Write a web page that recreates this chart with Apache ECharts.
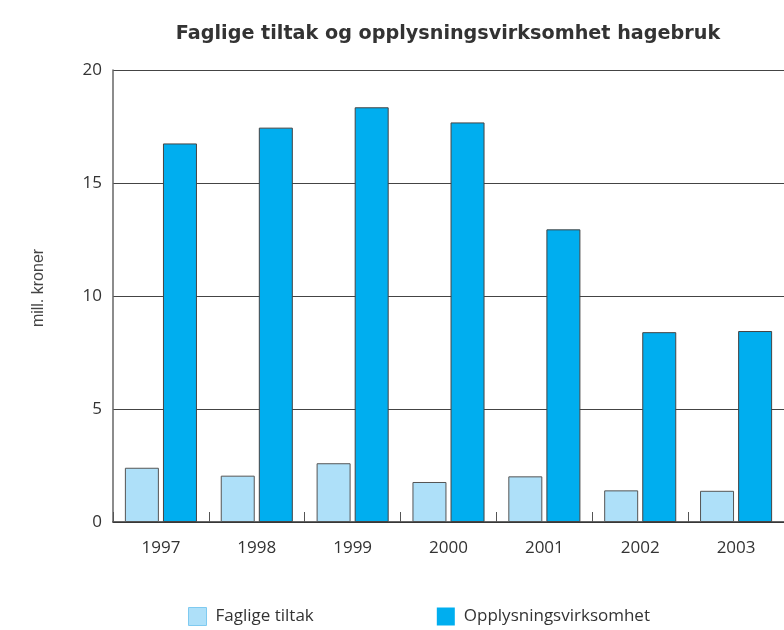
<!DOCTYPE html>
<html>
<head>
<meta charset="utf-8">
<script src="https://cdn.jsdelivr.net/npm/echarts@6/dist/echarts.min.js"></script>
<style>
  html, body { margin: 0; padding: 0; background: #fff; }
  #chart { width: 784px; height: 630px; }
</style>
</head>
<body>
<div id="chart"></div>
<script>
const years = ["1997", "1998", "1999", "2000", "2001", "2002", "2003"];
const faglige = [2.4, 2.05, 2.6, 1.77, 2.02, 1.4, 1.38];
const opplysning = [16.75, 17.45, 18.35, 17.68, 12.95, 8.4, 8.45];
const yTicks = [0, 5, 10, 15, 20];

const myChart = echarts.init(document.getElementById("chart"));
myChart.setOption({
  animation: false,
  title: {
    text: "Faglige tiltak og opplysningsvirksomhet hagebruk",
    left: 443,
    textAlign: "center",
    top: 20,
    textStyle: {
      fontFamily: "DejaVu Sans",
      fontWeight: "bold",
      fontSize: 19.2,
      color: "#333"
    }
  },
  legend: {
    top: 607,
    left: 188,
    padding: 0,
    itemWidth: 18,
    itemHeight: 18,
    itemGap: 123,
    icon: "rect",
    textStyle: {
      fontFamily: "Open Sans",
      fontSize: 17,
      color: "#333",
      padding: [0, 0, 0, 4]
    },
    data: [
      { name: "Faglige tiltak", itemStyle: { borderColor: "#7fcaf0", borderWidth: 1 } },
      { name: "Opplysningsvirksomhet", itemStyle: { borderWidth: 0 } }
    ]
  },
  grid: {
    left: 113,
    right: -2,
    top: 70,
    bottom: 108
  },
  xAxis: {
    type: "category",
    data: years,
    axisLine: { show: true, lineStyle: { color: "#333", width: 1.5 } },
    axisTick: { show: true, inside: true, length: 10, lineStyle: { color: "#555" } },
    axisLabel: {
      margin: 18,
      fontFamily: "Open Sans",
      fontSize: 17,
      color: "#333"
    }
  },
  yAxis: {
    type: "value",
    min: 0,
    max: 20,
    interval: 5,
    name: "mill. kroner",
    nameLocation: "middle",
    nameGap: 66,
    nameTextStyle: {
      fontFamily: "Liberation Sans",
      fontSize: 16,
      color: "#444",
      padding: [0, 0, 0, 16]
    },
    axisLine: { show: true, lineStyle: { color: "#666", width: 1.5 } },
    axisTick: { show: false },
    axisLabel: {
      margin: 11,
      fontFamily: "Open Sans",
      fontSize: 17,
      color: "#333",
      formatter: v => (yTicks.includes(v) ? String(v) : "")
    },
    splitLine: { show: true, lineStyle: { color: "#444", width: 1.2 } }
  },
  series: [
    {
      name: "Faglige tiltak",
      type: "bar",
      data: faglige,
      barWidth: 34,
      barGap: "12%",
      itemStyle: { color: "#aee0f9", borderColor: "#555", borderWidth: 1 }
    },
    {
      name: "Opplysningsvirksomhet",
      type: "bar",
      data: opplysning,
      barWidth: 34,
      barGap: "12%",
      itemStyle: { color: "#00aeef", borderColor: "#444", borderWidth: 1 }
    }
  ]
});
</script>
</body>
</html>
